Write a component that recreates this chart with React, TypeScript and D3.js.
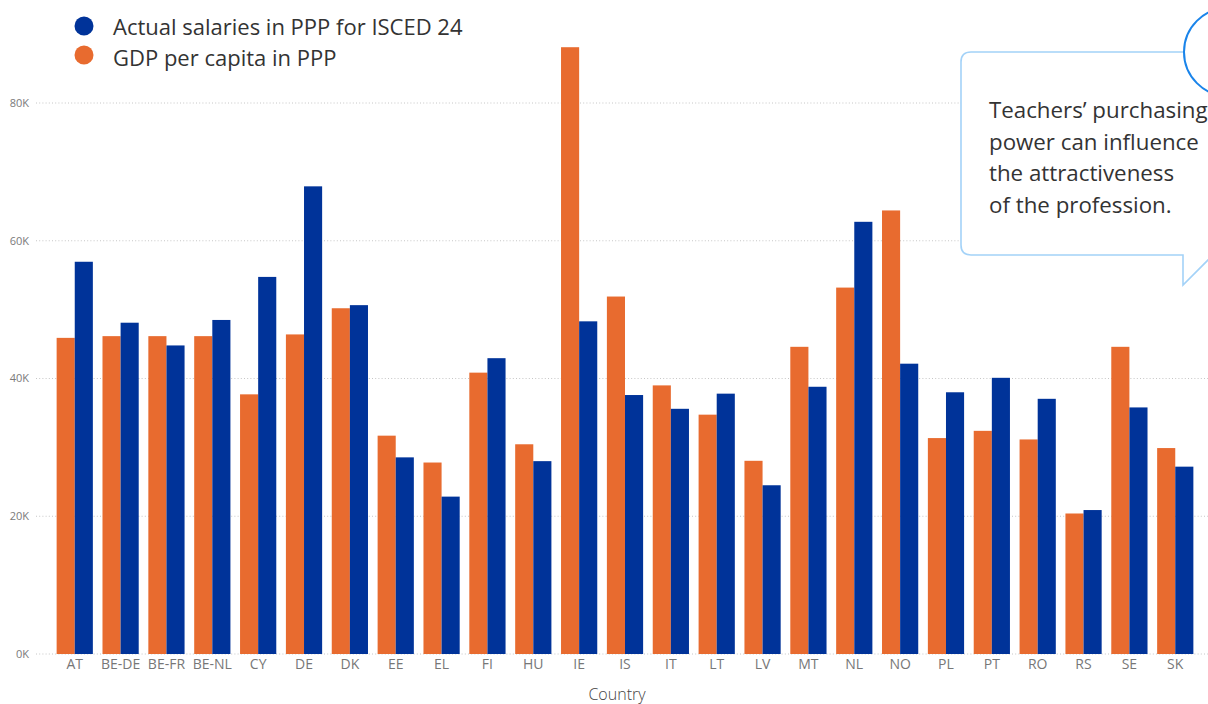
import { useEffect, useRef } from "react"
import * as d3 from "d3"

const countries = [
  "AT", "BE-DE", "BE-FR", "BE-NL", "CY", "DE", "DK", "EE", "EL", "FI", "HU", "IE", "IS",
  "IT", "LT", "LV", "MT", "NL", "NO", "PL", "PT", "RO", "RS", "SE", "SK",
]

// GDP per capita in PPP
const gdpValues = [
  45900, 46150, 46150, 46150, 37700, 46400, 50200, 31700, 27800, 40850, 30450, 88100, 51900,
  39000, 34750, 28050, 44600, 53200, 64400, 31350, 32400, 31150, 20400, 44600, 29900,
]

// Actual salaries in PPP for ISCED 24
const salaryValues = [
  56950, 48100, 44800, 48500, 54750, 67900, 50650, 28550, 22850, 42950, 28000, 48300, 37600,
  35600, 37800, 24500, 38800, 62750, 42150, 38000, 40100, 37050, 20900, 35800, 27200,
]

const yTicks = [0, 20000, 40000, 60000, 80000]

const legendItems = ["Actual salaries in PPP for ISCED 24", "GDP per capita in PPP"]

const calloutLines = [
  "Teachers\u2019 purchasing",
  "power can influence",
  "the attractiveness",
  "of the profession.",
]

const ORANGE = "#e86b2f"
const BLUE = "#003399"
const FONT = "'Open Sans', 'Noto Sans', sans-serif"

export default function App() {
  const svgRef = useRef<SVGSVGElement>(null)

  useEffect(() => {
    if (!svgRef.current) return
    const svg = d3.select(svgRef.current)
    svg.selectAll("*").remove()

    const width = 1208
    const height = 704

    svg.attr("width", width).attr("height", height)

    const y = d3.scaleLinear().domain([0, 80000]).range([654, 103])

    const x0 = d3
      .scaleBand<string>()
      .domain(countries)
      .range([36, 1214])
      .paddingInner(0.21)
      .paddingOuter(0.45)

    const x1 = d3
      .scaleBand<string>()
      .domain(["gdp", "salary"])
      .range([0, x0.bandwidth()])

    // grid lines + y labels
    const grid = svg.append("g")
    grid
      .selectAll("line")
      .data(yTicks)
      .enter()
      .append("line")
      .attr("x1", 36)
      .attr("x2", width)
      .attr("y1", (d) => y(d))
      .attr("y2", (d) => y(d))
      .style("stroke", "#c6c6c6")
      .style("stroke-width", "1px")
      .style("stroke-dasharray", "1,2.2")

    grid
      .selectAll("text")
      .data(yTicks)
      .enter()
      .append("text")
      .attr("x", 29)
      .attr("y", (d) => y(d))
      .attr("dy", "0.35em")
      .attr("text-anchor", "end")
      .text((d) => `${d / 1000}K`)
      .style("fill", "#7a7a7a")
      .style("font-family", FONT)
      .style("font-size", "11px")

    // bars
    const groups = svg
      .selectAll(".group")
      .data(countries)
      .enter()
      .append("g")
      .attr("class", "group")
      .attr("transform", (d) => `translate(${x0(d)},0)`)

    groups
      .append("rect")
      .attr("x", x1("gdp")!)
      .attr("width", x1.bandwidth())
      .attr("y", (d, i) => y(gdpValues[i]))
      .attr("height", (d, i) => y(0) - y(gdpValues[i]))
      .style("fill", ORANGE)

    groups
      .append("rect")
      .attr("x", x1("salary")!)
      .attr("width", x1.bandwidth())
      .attr("y", (d, i) => y(salaryValues[i]))
      .attr("height", (d, i) => y(0) - y(salaryValues[i]))
      .style("fill", BLUE)

    // x labels
    groups
      .append("text")
      .attr("x", x0.bandwidth() / 2)
      .attr("y", 669)
      .attr("text-anchor", "middle")
      .text((d) => d)
      .style("fill", "#777")
      .style("font-family", FONT)
      .style("font-size", "14px")

    svg
      .append("text")
      .attr("x", 617)
      .attr("y", 700)
      .attr("text-anchor", "middle")
      .text("Country")
      .style("fill", "#444")
      .style("font-family", FONT)
      .style("font-size", "16px")
      .style("font-weight", 300)

    // legend
    const legend = svg
      .selectAll(".legend")
      .data(legendItems)
      .enter()
      .append("g")
      .attr("class", "legend")
      .attr("transform", (d, i) => `translate(0,${i * 31})`)

    legend
      .append("circle")
      .attr("cx", 84)
      .attr("cy", (d, i) => 26 - i * 2)
      .attr("r", 9.5)
      .style("fill", (d, i) => (i === 0 ? BLUE : ORANGE))

    legend
      .append("text")
      .attr("x", 113)
      .attr("y", 35)
      .text((d) => d)
      .style("fill", "#333")
      .style("font-family", FONT)
      .style("font-size", "22px")

    // callout box with tail
    const bx = 961
    const by = 52
    const bb = 255
    const r = 10
    const boxPath = [
      `M${bx + r},${by}`,
      `L1260,${by}`,
      `L1260,${bb}`,
      `L1213,${bb}`,
      `L1183,${bb + 30}`,
      `L1183,${bb}`,
      `L${bx + r},${bb}`,
      `Q${bx},${bb} ${bx},${bb - r}`,
      `L${bx},${by + r}`,
      `Q${bx},${by} ${bx + r},${by}`,
      "Z",
    ].join(" ")

    svg
      .append("path")
      .attr("d", boxPath)
      .style("fill", "#fff")
      .style("stroke", "#a3d2f8")
      .style("stroke-width", "1.6px")

    svg
      .append("circle")
      .attr("cx", 1228)
      .attr("cy", 52)
      .attr("r", 44)
      .style("fill", "#fff")
      .style("stroke", "#1a84ea")
      .style("stroke-width", "2px")

    svg
      .append("g")
      .selectAll("text")
      .data(calloutLines)
      .enter()
      .append("text")
      .attr("x", 989)
      .attr("y", (d, i) => 118 + i * 31.7)
      .text((d) => d)
      .style("fill", "#333")
      .style("font-family", FONT)
      .style("font-size", "22.3px")
  }, [])

  return (
    <>
      <style>{`body{margin:0;overflow:hidden}`}</style>
      <svg ref={svgRef} style={{ display: "block" }}></svg>
    </>
  )
}
